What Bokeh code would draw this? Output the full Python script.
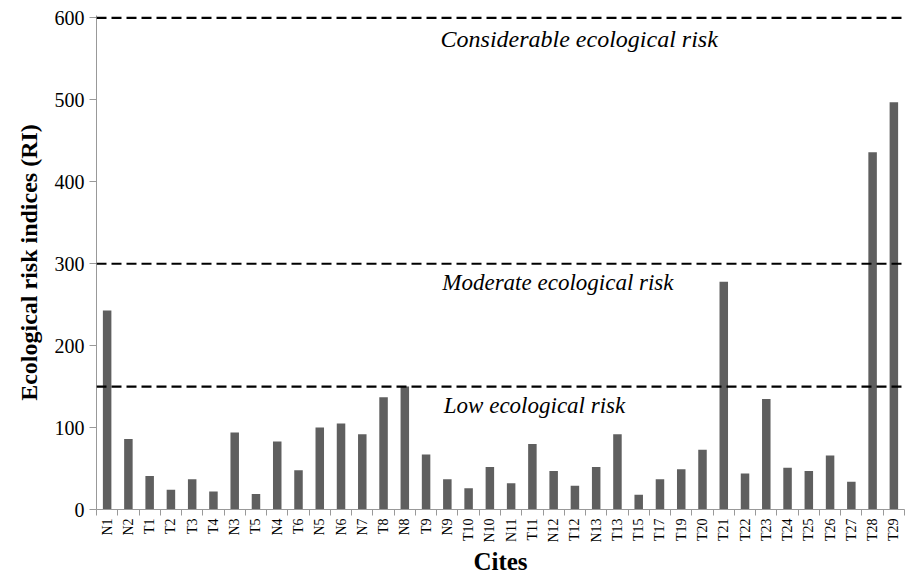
import math
from bokeh.plotting import figure
from bokeh.models import Range1d, FixedTicker, Span, Label
from bokeh.embed import file_html
from bokeh.resources import INLINE

sites = ["N1", "N2", "T1", "T2", "T3", "T4", "N3", "T5", "N4", "T6", "N5", "N6", "N7", "T8",
         "N8", "T9", "N9", "T10", "N10", "N11", "T11", "N12", "T12", "N13", "T13", "T15", "T17",
         "T19", "T20", "T21", "T22", "T23", "T24", "T25", "T26", "T27", "T28", "T29"]
ri = [243, 86, 41, 24, 37, 22, 94, 19, 83, 48, 100, 105, 92, 137,
      150, 67, 37, 26, 52, 32, 80, 47, 29, 52, 92, 18, 37,
      49, 73, 278, 44, 135, 51, 47, 66, 34, 436, 497]
thresholds = [150, 300, 600]
threshold_labels = ["Low ecological risk", "Moderate ecological risk", "Considerable ecological risk"]
y_ticks = [0, 100, 200, 300, 400, 500, 600]

n = len(sites)
centers = [i + 0.5 for i in range(n)]

p = figure(width=906, height=579, output_backend="svg", toolbar_location=None,
           x_range=Range1d(0, n), y_range=Range1d(0, 603),
           min_border_left=96, min_border_right=2, min_border_top=15, min_border_bottom=70)
p.outline_line_color = None
p.xgrid.visible = False
p.ygrid.visible = False
p.background_fill_color = "white"

p.vbar(x=centers, top=ri, width=0.4, fill_color="#5f5f5f", line_color=None)

for t in thresholds:
    p.add_layout(Span(location=t, dimension="width", line_color="black",
                      line_width=2.2, line_dash="10 5"))

label_pos = [(20.6, 127), (21.7, 277), (22.7, 574)]
label_sizes = ["23px", "23px", "24px"]
for (lx, ly), txt, fs in zip(label_pos, threshold_labels, label_sizes):
    p.add_layout(Label(x=lx, y=ly, text=txt, text_font="Liberation Serif",
                       text_font_style="italic", text_font_size=fs,
                       text_align="center", text_baseline="middle", text_color="black"))

xa = p.xaxis[0]
xa.ticker = FixedTicker(ticks=centers, minor_ticks=list(range(n + 1)))
xa.major_label_overrides = {c: s for c, s in zip(centers, sites)}
xa.major_label_orientation = math.pi / 2
xa.major_label_standoff = 3
xa.major_tick_line_color = None
xa.minor_tick_line_color = "#999999"
xa.minor_tick_out = 6
xa.minor_tick_in = 0
xa.axis_line_color = "#999999"
xa.major_label_text_font = "Liberation Serif"
xa.major_label_text_font_size = "14px"
xa.major_label_text_color = "black"
xa.axis_label = "Cites"
xa.axis_label_text_font = "Liberation Serif"
xa.axis_label_text_font_style = "bold"
xa.axis_label_text_font_size = "25px"
xa.axis_label_text_color = "black"
xa.axis_label_standoff = 2

ya = p.yaxis[0]
ya.ticker = FixedTicker(ticks=y_ticks)
ya.minor_tick_line_color = None
ya.major_tick_line_color = "#999999"
ya.major_tick_out = 7
ya.major_tick_in = 0
ya.axis_line_color = "#999999"
ya.major_label_text_font = "Liberation Serif"
ya.major_label_text_font_size = "20px"
ya.major_label_text_color = "black"
ya.axis_label = "Ecological risk indices (RI)"
ya.axis_label_text_font = "Liberation Serif"
ya.axis_label_text_font_style = "bold"
ya.axis_label_text_font_size = "24px"
ya.axis_label_text_color = "black"
ya.axis_label_standoff = 10

open("out.html", "w").write(file_html(p, INLINE))
